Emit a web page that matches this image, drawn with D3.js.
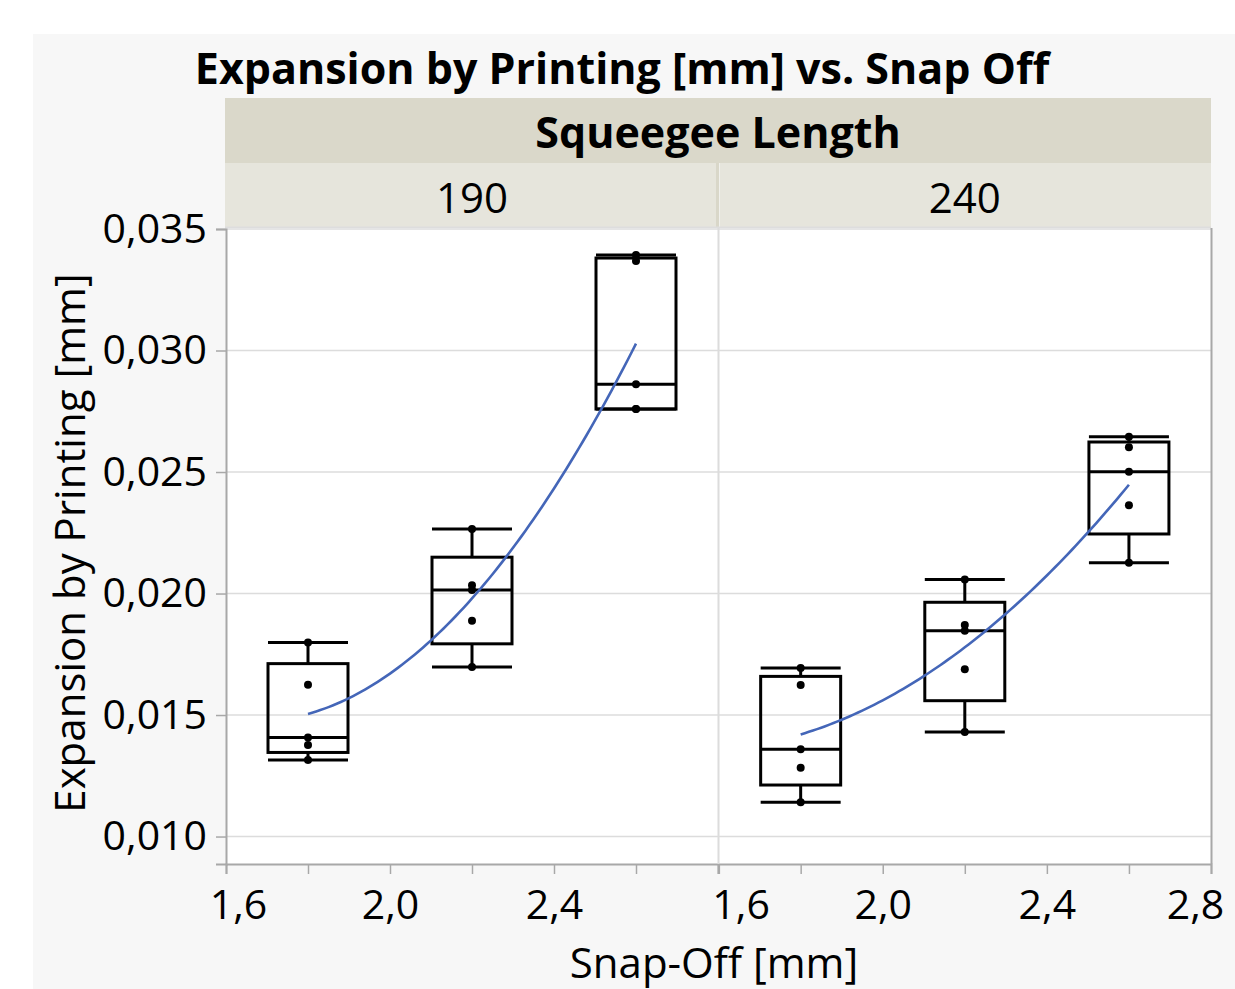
<!DOCTYPE html>
<html>
<head>
<meta charset="utf-8">
<script src="https://cdn.jsdelivr.net/npm/d3@7"></script>
<style>
  html, body { margin: 0; padding: 0; background: #ffffff; }
  svg { display: block; }
  text { font-family: "Open Sans", "Noto Sans", sans-serif; fill: #000; }
</style>
</head>
<body>
<svg id="chart" width="1235" height="989"></svg>
<script>
// ---------------- data ----------------
const chartTitle = "Expansion by Printing [mm] vs. Snap Off";
const groupTitle = "Squeegee Length";
const panels = ["190", "240"];
const snapOff = [1.8, 2.2, 2.6];
const values190 = [
  [0.01798, 0.01625, 0.01408, 0.01377, 0.01315],
  [0.02265, 0.02034, 0.02014, 0.01888, 0.01698],
  [0.03393, 0.03368, 0.02861, 0.02759, 0.02759]
];
const values240 = [
  [0.01694, 0.01624, 0.01359, 0.01283, 0.01141],
  [0.02058, 0.01870, 0.01847, 0.01688, 0.01430],
  [0.02645, 0.02602, 0.02501, 0.02363, 0.02127]
];
const xTicks = [1.6, 1.8, 2.0, 2.2, 2.4, 2.6, 2.8];
const xTickLabels = ["1,6", "", "2,0", "", "2,4", "", "2,8"];
const yTicks = [0.010, 0.015, 0.020, 0.025, 0.030, 0.035];
const yTickLabels = ["0,010", "0,015", "0,020", "0,025", "0,030", "0,035"];
const xTitle = "Snap-Off [mm]";
const yTitle = "Expansion by Printing [mm]";

// ---------------- layout ----------------
const svg = d3.select("#chart");
const plotTop = 228, plotBottom = 864;
const panelX = [[226, 718], [718.6, 1211]];
const stripTop = 98, stripMid = 163, stripBottom = 227;
const xDomain = [1.6, 2.8];
const yDomain = [0.00887, 0.035];
const y = d3.scaleLinear().domain(yDomain).range([plotBottom, 229]);

// JMP-style quantile ((n+1)p)
function quant(sorted, p) {
  const n = sorted.length;
  let pos = (n + 1) * p;
  pos = Math.max(1, Math.min(n, pos));
  const lo = Math.floor(pos), hi = Math.ceil(pos);
  return sorted[lo - 1] + (sorted[hi - 1] - sorted[lo - 1]) * (pos - lo);
}

// background
svg.append("rect").attr("x", 33).attr("y", 34).attr("width", 1235 - 33).attr("height", 989 - 34)
  .attr("fill", "#f7f7f7");

// title
svg.append("text").attr("x", 622).attr("y", 84).attr("text-anchor", "middle")
  .attr("font-size", 43).attr("font-weight", 700).text(chartTitle);

// strips
svg.append("rect").attr("x", 225).attr("y", stripTop).attr("width", 1211 - 225).attr("height", stripMid - stripTop)
  .attr("fill", "#dad8ca");
svg.append("text").attr("x", 718).attr("y", 148).attr("text-anchor", "middle")
  .attr("font-size", 43).attr("font-weight", 700).text(groupTitle);

panels.forEach((p, i) => {
  const [x0, x1] = panelX[i];
  svg.append("rect").attr("x", i === 0 ? 225 : x0 + 1).attr("y", stripMid)
    .attr("width", (x1 - x0) - 1).attr("height", stripBottom - stripMid)
    .attr("fill", "#e6e5dc");
  svg.append("text").attr("x", (x0 + x1) / 2).attr("y", 213).attr("text-anchor", "middle")
    .attr("font-size", 42).text(p);
});
// strip divider
svg.append("line").attr("x1", 717.5).attr("x2", 717.5).attr("y1", stripMid).attr("y2", stripBottom)
  .attr("stroke", "#d9d7c9").attr("stroke-width", 3);
svg.append("line").attr("x1", 225).attr("x2", 1211).attr("y1", stripBottom + 0.5).attr("y2", stripBottom + 0.5)
  .attr("stroke", "#dddddd").attr("stroke-width", 2);

// plot background
svg.append("rect").attr("x", 226).attr("y", plotTop).attr("width", 1211 - 226).attr("height", plotBottom - plotTop)
  .attr("fill", "#ffffff");

// panels
const allData = [values190, values240];
panels.forEach((p, i) => {
  const [x0, x1] = panelX[i];
  const x = d3.scaleLinear().domain(xDomain).range([x0, x1]);
  const g = svg.append("g");

  // gridlines
  g.selectAll("line.grid").data(yTicks).join("line")
    .attr("x1", x0).attr("x2", x1)
    .attr("y1", d => y(d)).attr("y2", d => y(d))
    .attr("stroke", "#dcdcdc").attr("stroke-width", 1.5);

  // x axis
  const xa = g.append("g").attr("transform", `translate(0,${plotBottom})`)
    .call(d3.axisBottom(x).tickValues(xTicks).tickSize(10).tickPadding(16)
      .tickFormat((d, k) => (i === 0 && k === xTicks.length - 1) ? "" : xTickLabels[k]));
  xa.select(".domain").attr("stroke", "#a8a8a8").attr("stroke-width", 2);
  xa.selectAll(".tick line").attr("stroke", "#a8a8a8").attr("stroke-width", 1.5);
  xa.selectAll(".tick text").attr("font-size", 41).attr("fill", "#000")
    .attr("font-family", "'Open Sans', sans-serif")
    .attr("dx", (d, k) => k === 0 ? (i === 0 ? 12 : 22) : (k === xTicks.length - 1 ? -16 : 0));

  const data = allData[i];
  const stats = data.map((vals, k) => {
    const s = vals.slice().sort(d3.ascending);
    return {
      x: snapOff[k], vals: s,
      q1: quant(s, 0.25), med: quant(s, 0.5), q3: quant(s, 0.75),
      min: s[0], max: s[s.length - 1], mean: d3.mean(s)
    };
  });
  const hw = 40;
  stats.forEach(st => {
    const cx = x(st.x);
    // whiskers
    g.append("line").attr("x1", cx).attr("x2", cx).attr("y1", y(st.q3)).attr("y2", y(st.max))
      .attr("stroke", "#000").attr("stroke-width", 3);
    g.append("line").attr("x1", cx).attr("x2", cx).attr("y1", y(st.q1)).attr("y2", y(st.min))
      .attr("stroke", "#000").attr("stroke-width", 3);
    g.append("line").attr("x1", cx - hw).attr("x2", cx + hw).attr("y1", y(st.max)).attr("y2", y(st.max))
      .attr("stroke", "#000").attr("stroke-width", 3);
    g.append("line").attr("x1", cx - hw).attr("x2", cx + hw).attr("y1", y(st.min)).attr("y2", y(st.min))
      .attr("stroke", "#000").attr("stroke-width", 3);
    // box
    g.append("rect").attr("x", cx - hw).attr("y", y(st.q3)).attr("width", 2 * hw)
      .attr("height", y(st.q1) - y(st.q3)).attr("fill", "none").attr("stroke", "#000").attr("stroke-width", 3);
    g.append("line").attr("x1", cx - hw).attr("x2", cx + hw).attr("y1", y(st.med)).attr("y2", y(st.med))
      .attr("stroke", "#000").attr("stroke-width", 3);
    // points
    g.selectAll(null).data(st.vals).join("circle")
      .attr("cx", cx).attr("cy", d => y(d)).attr("r", 4).attr("fill", "#000");
  });

  // quadratic fit through group means
  const xs = stats.map(s => s.x), ms = stats.map(s => s.mean);
  const fit = t => {
    let sum = 0;
    for (let a = 0; a < 3; a++) {
      let l = 1;
      for (let b = 0; b < 3; b++) if (b !== a) l *= (t - xs[b]) / (xs[a] - xs[b]);
      sum += ms[a] * l;
    }
    return sum;
  };
  const samples = d3.range(0, 81).map(k => xs[0] + (xs[2] - xs[0]) * k / 80);
  g.append("path").datum(samples)
    .attr("d", d3.line().x(t => x(t)).y(t => y(fit(t))))
    .attr("fill", "none").attr("stroke", "#4466b8").attr("stroke-width", 2.6);
});

// panel separator and frame
svg.append("line").attr("x1", 718.5).attr("x2", 718.5).attr("y1", plotTop).attr("y2", plotBottom)
  .attr("stroke", "#dcdcdc").attr("stroke-width", 2);
svg.append("line").attr("x1", 1211.5).attr("x2", 1211.5).attr("y1", plotTop).attr("y2", plotBottom)
  .attr("stroke", "#a8a8a8").attr("stroke-width", 2);

// y axis
const ya = svg.append("g").attr("transform", `translate(226,0)`)
  .call(d3.axisLeft(y).tickValues(yTicks).tickSize(10).tickPadding(9)
    .tickFormat((d, k) => yTickLabels[k]));
ya.select(".domain").attr("stroke", "#a8a8a8").attr("stroke-width", 2);
ya.selectAll(".tick line").attr("stroke", "#a8a8a8").attr("stroke-width", 1.5);
ya.selectAll(".tick text").attr("font-size", 41).attr("fill", "#000")
  .attr("font-family", "'Open Sans', sans-serif");

// axis titles
svg.append("text").attr("x", 714).attr("y", 978).attr("text-anchor", "middle")
  .attr("font-size", 42).text(xTitle);
svg.append("text").attr("transform", "translate(85,543) rotate(-90)").attr("text-anchor", "middle")
  .attr("font-size", 42).text(yTitle);
</script>
</body>
</html>
